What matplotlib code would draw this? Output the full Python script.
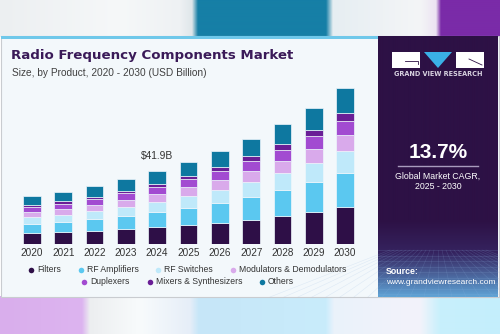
import numpy as np
import matplotlib
matplotlib.use("Agg")
import matplotlib.pyplot as plt
from matplotlib.patches import Rectangle, Polygon
from matplotlib.colors import to_rgb

years = ["2020", "2021", "2022", "2023", "2024", "2025", "2026", "2027", "2028", "2029", "2030"]
filters = [6.3, 6.8, 7.6, 8.5, 9.7, 10.8, 12.3, 14.0, 16.1, 18.4, 21.2]
rf_amplifiers = [5.5, 5.9, 6.7, 7.6, 8.5, 10.1, 11.2, 12.9, 14.6, 16.9, 19.3]
rf_switches = [4.0, 4.2, 4.7, 5.3, 6.1, 6.6, 7.6, 8.5, 9.8, 11.0, 12.5]
modulators = [2.7, 3.2, 3.4, 3.8, 4.2, 4.9, 5.5, 6.3, 7.2, 8.1, 9.5]
duplexers = [2.8, 3.0, 3.4, 3.8, 4.3, 4.6, 4.9, 5.5, 6.1, 7.0, 7.8]
mixers = [1.3, 1.3, 1.3, 1.5, 1.7, 2.1, 2.5, 2.8, 3.2, 3.6, 4.7]
others = [4.9, 5.1, 6.1, 6.7, 7.4, 8.0, 9.1, 10.1, 11.4, 12.7, 14.1]
series_names = ["Filters", "RF Amplifiers", "RF Switches", "Modulators & Demodulators",
                "Duplexers", "Mixers & Synthesizers", "Others"]
series_colors = ["#2e0f47", "#5bc8f0", "#bfe9fa", "#d9aaeb", "#a24bd1", "#6a1e96", "#0e78a0"]
annot_year = "2024"
annot_text = "$41.9B"
cagr_text = "13.7%"

W, H = 500, 334
fig = plt.figure(figsize=(5.0, 3.34), dpi=100)

# ---------- background / decoration axes in pixel coords ----------
bg = fig.add_axes([0, 0, 1, 1])
bg.set_xlim(0, W)
bg.set_ylim(H, 0)
bg.axis("off")

def strip(stops, y0, y1):
    xs = np.arange(W) + 0.5
    px = [s[0] for s in stops]
    cols = np.array([to_rgb(s[1]) for s in stops])
    img = np.stack([np.interp(xs, px, cols[:, c]) for c in range(3)], axis=-1)
    bg.imshow(img[None, :, :], extent=(0, W, y1, y0), aspect="auto", zorder=0,
              interpolation="bilinear")

strip([(0, "#eceff1"), (120, "#f6f8f9"), (180, "#eef1f3"), (192, "#dfe6ea"),
       (198, "#167fa6"), (326, "#167fa6"), (333, "#e6eef2"), (420, "#f4f5f7"),
       (436, "#ece4f2"), (441, "#7a2ba8"), (500, "#7a2ba8")], 0, 37)
strip([(0, "#d9aeec"), (82, "#ddb4f0"), (90, "#eceef0"), (140, "#f8fbfc"),
       (190, "#e6eef8"), (199, "#c6e6f8"), (326, "#c9ecfb"), (334, "#eaf2fb"),
       (420, "#f3f3fa"), (440, "#c8f0fc"), (500, "#c4eefc")], 296, H)

# card
bg.add_patch(Rectangle((1, 36), 498, 261, facecolor="#f3f8fb", edgecolor="#c9ccd0",
                       linewidth=0.8, zorder=1))
bg.add_patch(Rectangle((1, 36), 378, 2.5, facecolor="#6fc8ea", edgecolor="none", zorder=2))

# right panel with gradient bottom
panel = np.zeros((261, 1, 3))
top_c = np.array(to_rgb("#2d1145"))
mid_c = np.array(to_rgb("#35235f"))
bot_c = np.array(to_rgb("#60a6d8"))
for i in range(261):
    y = 36 + i
    if y < 220:
        panel[i, 0] = top_c
    elif y < 252:
        t = (y - 220) / 32
        panel[i, 0] = top_c * (1 - t) + mid_c * t
    else:
        t = (y - 252) / 45
        panel[i, 0] = mid_c * (1 - t) + bot_c * t
bg.imshow(panel, extent=(378, 498, 297, 36), aspect="auto", zorder=2, interpolation="bilinear")
# faint grid lines in the bottom of the panel
for k in range(9):
    yy = 250 + k * 5.5
    bg.plot([378, 498], [yy, yy], color="#8fb4e0", alpha=0.25, lw=0.4, zorder=3)
for k in range(-12, 13):
    bg.plot([438 + k * 4, 438 + k * 14], [250, 297], color="#8fb4e0", alpha=0.22, lw=0.4, zorder=3)
bg.set_xlim(0, W)
bg.set_ylim(H, 0)

# logo
bg.add_patch(Rectangle((392, 52), 28, 16, facecolor="white", edgecolor="none", zorder=4))
bg.plot([405, 418, 418], [60.5, 60.5, 64], color="#2d1145", lw=0.6, zorder=5)
bg.add_patch(Polygon([(424, 52), (452, 52), (438, 68)], closed=True,
                     facecolor="#3ab0e6", edgecolor="none", zorder=4))
bg.add_patch(Rectangle((456, 52), 28, 16, facecolor="white", edgecolor="none", zorder=4))
bg.plot([469, 482], [59, 65], color="#2d1145", lw=0.6, zorder=5)
bg.text(438, 74.5, "GRAND VIEW RESEARCH", color="#d8d2e0", fontsize=4.7, fontweight="bold",
        ha="center", va="center", family="DejaVu Sans", zorder=5)

bg.text(438, 153, cagr_text, color="white", fontsize=15, fontweight="bold",
        ha="center", va="center", family="Liberation Sans", zorder=5)
bg.plot([398, 478], [166, 166], color="#a89bbd", lw=1.0, zorder=5)
bg.text(438, 176.5, "Global Market CAGR,", color="white", fontsize=6.3,
        ha="center", va="center", family="Liberation Sans", zorder=5)
bg.text(438, 186.5, "2025 - 2030", color="white", fontsize=6.3,
        ha="center", va="center", family="Liberation Sans", zorder=5)
bg.text(386, 272, "Source:", color="white", fontsize=6.3, fontweight="bold",
        ha="left", va="center", family="Liberation Sans", zorder=5)
bg.text(386, 282, "www.grandviewresearch.com", color="white", fontsize=6.0,
        ha="left", va="center", family="Liberation Sans", zorder=5)

# titles
bg.text(11, 56, "Radio Frequency Components Market", color="#3a1a58", fontsize=9.6,
        fontweight="bold", ha="left", va="center", family="DejaVu Sans", zorder=5)
bg.text(12, 72.5, "Size, by Product, 2020 - 2030 (USD Billion)", color="#404040", fontsize=7.3,
        ha="left", va="center", family="Liberation Sans", zorder=5)

# legend (manual, two centered rows)
legend_rows = [[0, 1, 2, 3], [4, 5, 6]]
legend_x = [[31, 81, 158, 233], [84, 150, 262]]
legend_y = [270, 282]
for r, row in enumerate(legend_rows):
    for j, idx in enumerate(row):
        x0 = legend_x[r][j]
        bg.scatter([x0], [legend_y[r]], s=16, color=series_colors[idx], zorder=5, linewidths=0)
        bg.text(x0 + 6, legend_y[r], series_names[idx], color="#333333", fontsize=6.2,
                ha="left", va="center", family="Liberation Sans", zorder=5)

# ---------- chart axes ----------
base_px = 244.3
top_px = 80
scale = 41.9 / 73.6  # billions per pixel
left_px, right_px = 10, 367
ax = fig.add_axes([left_px / W, (H - base_px) / H, (right_px - left_px) / W,
                   (base_px - top_px) / H])
ax.set_xlim(-0.7, 10.7)
ax.set_ylim(0, (base_px - top_px) * scale)
ax.patch.set_alpha(0)
for s in ax.spines.values():
    s.set_visible(False)
ax.set_yticks([])

x = np.arange(len(years))
all_series = [filters, rf_amplifiers, rf_switches, modulators, duplexers, mixers, others]
bottom = np.zeros(len(years))
for vals, col in zip(all_series, series_colors):
    ax.bar(x, vals, width=0.56, bottom=bottom, color=col, edgecolor="#eef6fb",
           linewidth=0.5, zorder=3)
    bottom += np.array(vals)

ax.set_xticks(x)
ax.set_xticklabels(years, fontsize=7.2, color="#333333", family="Liberation Sans")
ax.tick_params(axis="x", length=0, pad=3)

ai = years.index(annot_year)
ax.annotate(annot_text, (x[ai], bottom[ai]), xytext=(0, 7), textcoords="offset points",
            ha="center", va="bottom", fontsize=7.4, color="#333333", family="Liberation Sans")

fig.savefig("out.png", dpi=100)
